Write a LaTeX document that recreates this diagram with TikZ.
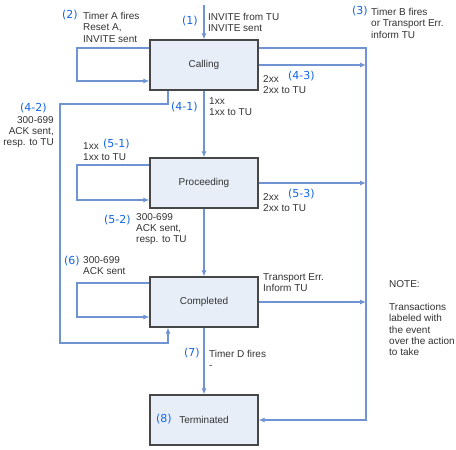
\documentclass[tikz,border=0pt]{standalone}
\usepackage{fontspec}
\setmainfont{Liberation Sans}
\newfontfamily\numfont{DejaVu Sans}
\usetikzlibrary{arrows.meta}
\definecolor{lineblue}{HTML}{6F93D3}
\definecolor{boxfill}{HTML}{E8EEF8}
\definecolor{lblblue}{HTML}{1466E6}
\definecolor{txt}{HTML}{333333}
\begin{document}
\begin{tikzpicture}[x=1pt,y=-1pt,
  state/.style={draw=black!72, line width=1.2pt, fill=boxfill, minimum width=108pt, minimum height=50pt, inner sep=0pt, text=txt, font=\fontsize{10}{12}\selectfont},
  conn/.style={draw=lineblue, line width=1.1pt, -{Latex[length=6pt,width=5pt]}},
  lbl/.style={text=txt, font=\fontsize{10}{11.3}\selectfont, inner sep=0pt, align=left, anchor=north west},
  num/.style={text=lblblue, font=\numfont\fontsize{11}{14}\selectfont, inner sep=0pt, anchor=north west},
]
\useasboundingbox[fill=white] (0,0) rectangle (456,450);

% states
\node[state] (calling) at (204,65) {Calling};
\node[state] (proceeding) at (204,183) {Proceeding};
\node[state] (completed) at (204,302) {Completed};
\node[state] (terminated) at (204,420) {};
\node[text=txt, font=\fontsize{10}{12}\selectfont, inner sep=0pt] (termtxt) at (204,420) {Terminated};
\node[num, anchor=west] (n8) at (156,419) {(8)};

% (1) incoming
\coordinate (start) at (204,5);
\draw[conn] (start) -- (calling.north);
\node[num] (n1) at (182,16) {(1)};
\node[lbl] (t1) at (208,13) {INVITE from TU\\INVITE sent};

% (2) self loop on Calling
\coordinate (l2a) at (77,48);
\coordinate (l2b) at (77,81);
\draw[conn] (calling.west |- l2a) -- (l2a) -- (l2b) -- (calling.west |- l2b);
\node[num] (n2) at (62,10) {(2)};
\node[lbl] (t2) at (83,12) {Timer A fires\\Reset A,\\INVITE sent};

% (3) timer B / right bus
\coordinate (b1) at (366,48);
\coordinate (b2) at (366,420);
\draw[conn] (calling.east |- b1) -- (b1) -- (b2) -- (terminated.east);
\node[num] (n3) at (352,6) {(3)};
\node[lbl] (t3) at (371,8) {Timer B fires\\or Transport Err.\\inform TU};

% (4-3)
\coordinate (r43) at (366,65);
\draw[conn] (calling.east) -- (r43);
\node[lbl] (t43) at (263,75) {2xx\\2xx to TU};
\node[num] (n43) at (288,71) {(4-3)};

% (4-1)
\draw[conn] (calling.south) -- (proceeding.north);
\node[num] (n41) at (171,102) {(4-1)};
\node[lbl] (t41) at (209,97) {1xx\\1xx to TU};

% (4-2)
\coordinate (p42a) at (168,104);
\coordinate (p42b) at (60,104);
\coordinate (p42c) at (60,343);
\draw[conn] (calling.south -| p42a) -- (p42a) -- (p42b) -- (p42c) -| (completed.south -| p42a);
\node[num] (n42) at (20,103) {(4-2)};
\node[lbl, anchor=north east, align=right] (t42) at (54,116) {300-699\\ACK sent,\\resp. to TU};

% (5-1) self loop on Proceeding
\coordinate (l5a) at (77,165);
\coordinate (l5b) at (77,200);
\draw[conn] (proceeding.west |- l5a) -- (l5a) -- (l5b) -- (proceeding.west |- l5b);
\node[lbl] (t51) at (83,142) {1xx\\1xx to TU};
\node[num] (n51) at (103,139) {(5-1)};

% (5-3)
\coordinate (r53) at (366,183);
\draw[conn] (proceeding.east) -- (r53);
\node[lbl] (t53) at (263,193) {2xx\\2xx to TU};
\node[num] (n53) at (288,189) {(5-3)};

% (5-2)
\draw[conn] (proceeding.south) -- (completed.north);
\node[num] (n52) at (104,215) {(5-2)};
\node[lbl] (t52) at (136,213) {300-699\\ACK sent,\\resp. to TU};

% (6) self loop on Completed
\coordinate (l6a) at (77,283);
\coordinate (l6b) at (77,317);
\draw[conn] (completed.west |- l6a) -- (l6a) -- (l6b) -- (completed.west |- l6b);
\node[num] (n6) at (64,256) {(6)};
\node[lbl] (t6) at (83,256) {300-699\\ACK sent};

% transport error from Completed
\coordinate (r6) at (366,302);
\draw[conn] (completed.east) -- (r6);
\node[lbl] (t7e) at (263,273) {Transport Err.\\Inform TU};

% (7)
\draw[conn] (completed.south) -- (terminated.north);
\node[num] (n7) at (184,348) {(7)};
\node[lbl] (t7) at (209,350) {Timer D fires\\-};

% note
\node[lbl] (note) at (389,280) {NOTE:};
\node[lbl] (notetxt) at (389,303) {Transactions\\labeled with\\the event\\over the action\\to take};
\end{tikzpicture}
\end{document}
